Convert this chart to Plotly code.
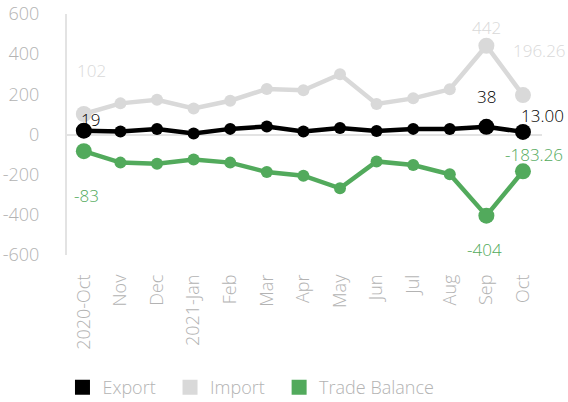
import plotly.graph_objects as go

months = ["2020-Oct", "Nov", "Dec", "2021-Jan", "Feb", "Mar", "Apr", "May",
          "Jun", "Jul", "Aug", "Sep", "Oct"]
export_vals = [19, 15, 27, 5, 28, 40, 15, 32, 18, 28, 27, 38, 13.00]
import_vals = [102, 155, 173, 130, 168, 227, 220, 300, 152, 180, 225, 442, 196.26]
balance_vals = [-83, -140, -146, -125, -140, -187, -205, -268, -134, -152, -198, -404, -183.26]
y_ticks = [600, 400, 200, 0, -200, -400, -600]
y_tick_labels = ["600", "400", "200", "0", "-200", "-400", "-600"]
series_names = ["Export", "Import", "Trade Balance"]

C_EXP = "#000000"
C_IMP = "#d9d9d9"
C_BAL = "#52aa5c"
C_TXT = "#b3b3b3"
FONT = "Open Sans"
W = 300
PAD = "\u00a0\u00a0"

big = {0, 11, 12}
sizes = [16 if i in big else 12 for i in range(len(months))]

fig = go.Figure()
for vals, col in [(import_vals, C_IMP), (balance_vals, C_BAL), (export_vals, C_EXP)]:
    fig.add_trace(go.Scatter(x=list(range(len(months))), y=vals, mode="lines+markers",
                             line=dict(color=col, width=4.5),
                             marker=dict(color=col, size=sizes, opacity=1,
                                         line=dict(width=0)),
                             cliponaxis=False,
                             showlegend=False, hoverinfo="skip"))

for name, col in zip(series_names, [C_EXP, C_IMP, C_BAL]):
    fig.add_trace(go.Scatter(x=[None], y=[None], mode="markers", name=name + PAD,
                             marker=dict(color=col, size=15, symbol="square")))

def lab(i, vals, text, col, xs, ys):
    fig.add_annotation(x=i, y=vals[i], text=text, showarrow=False,
                       xshift=xs, yshift=ys,
                       font=dict(family=FONT, size=17, color=col, weight=W))

lab(0, import_vals, "102", C_IMP, 8, 44)
lab(0, export_vals, "19", C_EXP, 7, 11)
lab(0, balance_vals, "-83", C_BAL, 3, -44)
lab(11, import_vals, "442", C_IMP, 0, 18)
lab(11, export_vals, "38", C_EXP, 0, 30)
lab(11, balance_vals, "-404", C_BAL, -2, -34)
lab(12, import_vals, "196.26", C_IMP, 17, 45)
lab(12, export_vals, "13.00", C_EXP, 20, 16)
lab(12, balance_vals, "-183.26", C_BAL, 11, 17)

fig.update_layout(
    width=568, height=402,
    margin=dict(l=67, r=26, t=14, b=147),
    paper_bgcolor="white", plot_bgcolor="white",
    font=dict(family=FONT, color=C_TXT, size=17, weight=W),
    legend=dict(orientation="h", xref="container", x=0.11, xanchor="left",
                yref="container", y=0.036, yanchor="middle",
                bgcolor="rgba(0,0,0,0)",
                font=dict(family=FONT, size=18, color=C_TXT, weight=W),
                itemwidth=30, tracegroupgap=0),
    xaxis=dict(tickmode="array", tickvals=list(range(len(months))), ticktext=months,
               tickangle=-90, range=[-0.46, 12.52], showgrid=False, zeroline=False,
               showline=False, ticks="", tickfont=dict(size=18, color=C_TXT, weight=W),
               ticklabelstandoff=15, automargin=False),
    yaxis=dict(range=[-600, 600], tickmode="array", tickvals=y_ticks,
               ticktext=y_tick_labels, showgrid=False,
               zeroline=True, zerolinecolor="#e3e3e3", zerolinewidth=2,
               showline=True, linecolor="#e3e3e3", linewidth=2,
               ticks="", tickfont=dict(size=18, color=C_TXT, weight=W),
               ticklabelstandoff=22, automargin=False),
)

fig.write_html("out.html", config={"displayModeBar": False},
               post_script="document.body.style.margin='0';document.body.style.overflow='hidden';")
